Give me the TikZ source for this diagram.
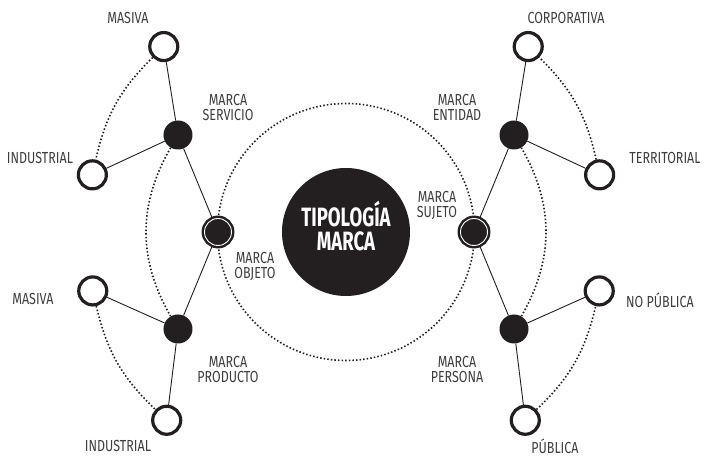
\documentclass[tikz,border=0pt]{standalone}
\usepackage{fontspec}
\setmainfont{Fira Sans}[FakeStretch=0.78]
\newfontfamily\titulofont{Fira Sans}[FakeStretch=0.7]
\definecolor{negro}{RGB}{35,31,32}
\definecolor{gristexto}{RGB}{62,62,62}

\begin{document}
\begin{tikzpicture}[x=1pt,y=1pt,
    vacio/.style={circle, draw=negro, line width=3.2pt, fill=white, minimum size=28pt, inner sep=0pt},
    lleno/.style={circle, fill=negro, minimum size=29pt, inner sep=0pt},
    doble/.style={circle, fill=negro, draw=negro, double=white, double distance=0.9pt, line width=2.5pt, minimum size=27pt, inner sep=0pt},
    rotulo/.style={text=gristexto, align=center, font=\fontsize{16}{15}\selectfont, inner sep=0pt},
    punteado/.style={negro, line width=1.6pt, dash pattern=on 1.5pt off 2.1pt},
    enlace/.style={negro, line width=0.9pt}]

    % Margens
    \useasboundingbox (-346,-225) rectangle (358,232);

    % Círculo central
    \node[circle, fill=negro, minimum size=128pt, inner sep=0pt, text=white, align=center,
          text height=37pt, text depth=0pt,
          font=\titulofont\bfseries\fontsize{26.5}{24}\selectfont] (centro) at (0,0) {TIPOLOGÍA\\MARCA};
    \draw[punteado] (centro.center) circle (128.5pt);

    % Nós do primeiro nível
    \node[doble] (objeto) at (180:128pt) {};
    \node[doble] (sujeto) at (0:128pt) {};

    % Nós do segundo nível
    \node[lleno] (servicio) at (150:194pt) {};
    \node[lleno] (producto) at (210:194pt) {};
    \node[lleno] (entidad) at (30:194pt) {};
    \node[lleno] (persona) at (-30:194pt) {};

    % Nós do terceiro nível
    \node[vacio] (masivaA) at (134.5:260pt) {};
    \node[vacio] (industrialA) at (167.3:260pt) {};
    \node[vacio] (masivaB) at (193.1:260pt) {};
    \node[vacio] (industrialB) at (226.4:260pt) {};
    \node[vacio] (corporativa) at (45.5:260pt) {};
    \node[vacio] (territorial) at (12.7:260pt) {};
    \node[vacio] (nopublica) at (-13.1:260pt) {};
    \node[vacio] (publica) at (-46.4:260pt) {};

    % Arcos pontilhados
    \draw[punteado] (servicio) to[bend right=30] (producto);
    \draw[punteado] (persona) to[bend right=30] (entidad);
    \draw[punteado] (masivaA) to[bend right=16.4] (industrialA);
    \draw[punteado] (masivaB) to[bend right=16.6] (industrialB);
    \draw[punteado] (territorial) to[bend right=16.4] (corporativa);
    \draw[punteado] (publica) to[bend right=16.6] (nopublica);

    % Ligações
    \draw[enlace] (masivaA) -- (servicio);
    \draw[enlace] (industrialA) -- (servicio);
    \draw[enlace] (servicio) -- (objeto);
    \draw[enlace] (objeto) -- (producto);
    \draw[enlace] (producto) -- (masivaB);
    \draw[enlace] (producto) -- (industrialB);
    \draw[enlace] (corporativa) -- (entidad);
    \draw[enlace] (territorial) -- (entidad);
    \draw[enlace] (entidad) -- (sujeto);
    \draw[enlace] (sujeto) -- (persona);
    \draw[enlace] (persona) -- (nopublica);
    \draw[enlace] (persona) -- (publica);

    % Rótulos
    \node[rotulo] (tmasivaA) at (-218,214) {MASIVA};
    \node[rotulo] (tindustrialA) at (-306,74) {INDUSTRIAL};
    \node[rotulo] (tservicio) at (-118,125) {MARCA\\SERVICIO};
    \node[rotulo] (tobjeto) at (-91,-34) {MARCA\\OBJETO};
    \node[rotulo] (tmasivaB) at (-313,-67) {MASIVA};
    \node[rotulo] (tproducto) at (-118,-137) {MARCA\\PRODUCTO};
    \node[rotulo] (tindustrialB) at (-228,-214) {INDUSTRIAL};
    \node[rotulo] (tcorporativa) at (220,214) {CORPORATIVA};
    \node[rotulo] (tentidad) at (111,125) {MARCA\\ENTIDAD};
    \node[rotulo] (tterritorial) at (319,74) {TERRITORIAL};
    \node[rotulo] (tsujeto) at (91,27) {MARCA\\SUJETO};
    \node[rotulo] (tnopublica) at (314,-68) {NO PÚBLICA};
    \node[rotulo] (tpersona) at (111,-137) {MARCA\\PERSONA};
    \node[rotulo] (tpublica) at (209,-214) {PÚBLICA};

\end{tikzpicture}
\end{document}
